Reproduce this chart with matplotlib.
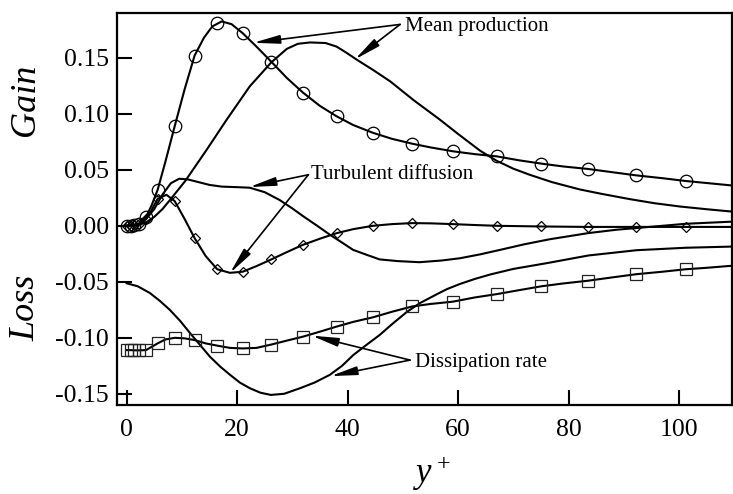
import numpy as np
import matplotlib
matplotlib.use('Agg')
import matplotlib.pyplot as plt

plt.rcParams['font.family'] = ['Liberation Serif', 'DejaVu Serif']
plt.rcParams['mathtext.fontset'] = 'custom'
plt.rcParams['mathtext.rm'] = 'Liberation Serif'
plt.rcParams['mathtext.it'] = 'Liberation Serif:italic'

# --- DNS budget terms (symbols) ---
y_dns = [0, 0.7, 1.4, 2.2, 3.5, 5.6, 8.7, 12.3, 16.4, 21.0, 26.2, 31.9, 38.0,
         44.6, 51.7, 59.1, 67.0, 75.1, 83.6, 92.3, 101.2]
prod_dns = [0, 0.0001, 0.0004, 0.0015, 0.008, 0.032, 0.089, 0.152, 0.181, 0.172,
            0.1464, 0.119, 0.0978, 0.083, 0.0733, 0.0665, 0.062, 0.0555, 0.0507,
            0.045, 0.040]
diff_dns = [0, 0.0001, 0.0005, 0.002, 0.006, 0.024, 0.022, -0.011, -0.0388,
            -0.041, -0.030, -0.017, -0.0066, 0.0, 0.0024, 0.0015, 0.0, -0.0006,
            -0.001, -0.001, -0.001]
diss_dns = [-0.111, -0.111, -0.1112, -0.1112, -0.111, -0.105, -0.100, -0.102,
            -0.107, -0.1095, -0.106, -0.099, -0.090, -0.0817, -0.072, -0.0677,
            -0.061, -0.054, -0.049, -0.0432, -0.0388]

# DNS curves through the symbols
xa = [0, 1.4, 2.2, 3.5, 4.5, 5.6, 7, 8.7, 10.5, 12.3, 14, 15.5, 17.2, 19, 21,
      23.5, 26.2, 29, 31.9, 35, 38, 41, 44.6, 48, 51.7, 55, 59.1, 63, 67, 71,
      75.1, 79, 83.6, 88, 92.3, 97, 101.2, 105, 110]
prod_a = [0, 0.0004, 0.0015, 0.008, 0.018, 0.032, 0.057, 0.089, 0.122, 0.152,
          0.168, 0.178, 0.1825, 0.180, 0.172, 0.160, 0.1464, 0.132, 0.119, 0.107,
          0.0978, 0.090, 0.083, 0.0777, 0.0733, 0.070, 0.0665, 0.064, 0.062,
          0.0585, 0.0555, 0.053, 0.0507, 0.0478, 0.045, 0.0425, 0.040, 0.0382,
          0.0358]

xc = [0, 1.4, 2.2, 3.5, 4.5, 5.6, 7.2, 8.7, 10.5, 12.3, 14.3, 16.4, 18.7, 21,
      23.5, 26.2, 29, 31.9, 35, 38, 41, 44.6, 48, 51.7, 55, 59.1, 63, 67, 75.1,
      83.6, 92.3, 101.2, 110]
diff_c = [0, 0.0005, 0.002, 0.006, 0.014, 0.024, 0.0277, 0.022, 0.006, -0.011,
          -0.027, -0.0388, -0.042, -0.041, -0.036, -0.030, -0.0235, -0.017,
          -0.0115, -0.0066, -0.003, 0.0, 0.0015, 0.0024, 0.0022, 0.0015, 0.0007,
          0.0, -0.0006, -0.001, -0.001, -0.001, -0.001]

xe = [0, 0.7, 1.4, 2.2, 3.5, 5.6, 7, 8.7, 10.5, 12.3, 14.3, 16.4, 18.7, 21,
      23.5, 26.2, 29, 31.9, 35, 38, 41, 44.6, 48, 51.7, 55, 59.1, 63, 67, 71,
      75.1, 79, 83.6, 88, 92.3, 97, 101.2, 105, 110]
diss_e = [-0.111, -0.111, -0.1112, -0.1112, -0.111, -0.105, -0.1015, -0.100,
          -0.1005, -0.102, -0.105, -0.107, -0.109, -0.1095, -0.109, -0.106,
          -0.1025, -0.099, -0.0945, -0.090, -0.0858, -0.0817, -0.0768, -0.072,
          -0.0698, -0.0677, -0.064, -0.061, -0.0575, -0.054, -0.0515, -0.049,
          -0.046, -0.0432, -0.041, -0.0388, -0.0375, -0.0355]

# --- model predictions (plain lines) ---
xb = [0, 2, 3.5, 5, 6.5, 8, 10.6, 14.5, 18, 22.3, 26.2, 29, 31, 33.2, 36, 38,
      39.8, 41.6, 44.5, 47.7, 52, 56.7, 60, 64, 67, 70, 73, 77, 82, 86, 91.1,
      95.5, 100.2, 105, 110]
prod_b = [0, 0.0005, 0.003, 0.008, 0.015, 0.024, 0.040, 0.068, 0.094, 0.1246,
          0.146, 0.158, 0.1625, 0.1637, 0.1632, 0.160, 0.1545, 0.1485, 0.1395,
          0.129, 0.112, 0.0948, 0.082, 0.067, 0.058, 0.051, 0.0455, 0.039,
          0.0325, 0.0285, 0.0238, 0.0202, 0.0172, 0.0148, 0.0125]

xd = [0, 2, 3.5, 5, 6.5, 8, 9.5, 11, 13, 15, 17.2, 20, 22.3, 25, 27.7, 30, 32,
      34.5, 36.8, 39, 41, 43.5, 45.8, 49, 53, 57, 60.3, 64, 67.6, 72, 76.6,
      83.6, 88.7, 92.3, 101.2, 110]
diff_d = [0, 0.001, 0.006, 0.015, 0.028, 0.038, 0.042, 0.0415, 0.039, 0.0365,
          0.035, 0.0345, 0.034, 0.030, 0.023, 0.0155, 0.0084, 0.0, -0.008,
          -0.015, -0.0215, -0.026, -0.030, -0.0315, -0.0325, -0.031, -0.029,
          -0.0255, -0.0215, -0.0165, -0.012, -0.0065, -0.0035, -0.002, 0.0018,
          0.0038]

xf = [0, 2, 4.2, 6, 7.8, 9.7, 11.5, 13.3, 15.1, 17, 18.7, 20.5, 22.3, 24.2,
      26.1, 28.5, 31.4, 34, 36.8, 39, 41, 43.5, 45.8, 48, 50.7, 53.1, 56, 58,
      60.3, 63, 65.8, 70, 76, 83.6, 92.3, 101.2, 110]
diss_f = [-0.0513, -0.054, -0.060, -0.067, -0.075, -0.085, -0.096, -0.1065,
          -0.117, -0.126, -0.133, -0.140, -0.145, -0.149, -0.151, -0.150,
          -0.145, -0.140, -0.133, -0.125, -0.1155, -0.106, -0.0975, -0.088,
          -0.077, -0.069, -0.0615, -0.0565, -0.052, -0.0475, -0.0435, -0.0385,
          -0.0334, -0.0265, -0.0218, -0.0196, -0.0185]

yticks = [-0.15, -0.10, -0.05, 0.00, 0.05, 0.10, 0.15]
xticks = [0, 20, 40, 60, 80, 100]

W, H = 733, 494
fig = plt.figure(figsize=(W / 100, H / 100), dpi=100)
ax = fig.add_axes([117 / W, 1 - 405 / H, (731.5 - 117) / W, (405 - 13) / H])

lw = 1.5
for x, y in [(xa, prod_a), (xc, diff_c), (xe, diss_e),
             (xb, prod_b), (xd, diff_d), (xf, diss_f)]:
    ax.plot(x, y, 'k-', lw=lw)

ax.plot(y_dns, prod_dns, 'o', ms=9, mfc='none', mec='k', mew=0.9)
ax.plot(y_dns, diff_dns, 'D', ms=5, mfc='none', mec='k', mew=0.9)
ax.plot(y_dns, diss_dns, 's', ms=8, mfc='none', mec='#222222', mew=0.9)

ax.set_xlim(-1.75, 109.5)
ax.set_ylim(-0.16, 0.19)
ax.set_xticks(xticks)
ax.set_yticks(yticks)
ax.set_yticklabels([f'{v:.2f}' for v in yticks])
ax.tick_params(axis='both', direction='in', length=11, width=1.5,
               labelsize=18.5, top=False, right=False)
ax.tick_params(axis='x', pad=10)
ax.tick_params(axis='y', pad=6)
for s in ax.spines.values():
    s.set_linewidth(1.6)

# annotations
ap = dict(arrowstyle='-|>,head_length=0.8,head_width=0.13', color='k',
          lw=1.2, shrinkA=0, shrinkB=0, mutation_scale=20)
notes = [
    ('Mean production', (50.4, 0.178), (49.5, 0.1798),
     [(22.9, 0.1634), (41.3, 0.1485)]),
    ('Turbulent diffusion', (33.3, 0.0456), (32.9, 0.0456),
     [(22.2, 0.0346), (18.7, -0.0423)]),
    ('Dissipation rate', (52.2, -0.1223), (51.3, -0.1199),
     [(33.5, -0.0981), (36.9, -0.1342)]),
]
for label, tpos, tail, tips in notes:
    ax.text(tpos[0], tpos[1], label, fontsize=15, ha='left', va='center')
    for tip in tips:
        ax.annotate('', xy=tip, xytext=tail, arrowprops=ap)

fig.text(26 / W, 1 - 100 / H, 'Gain', fontsize=26, style='italic',
         rotation=90, ha='center', va='center')
fig.text(26 / W, 1 - 308 / H, 'Loss', fontsize=26, style='italic',
         rotation=90, ha='center', va='center')
fig.text(432 / W, 1 - 483 / H, r'$y^+$', fontsize=25, ha='center',
         va='baseline')

fig.savefig('out.png', dpi=100)
